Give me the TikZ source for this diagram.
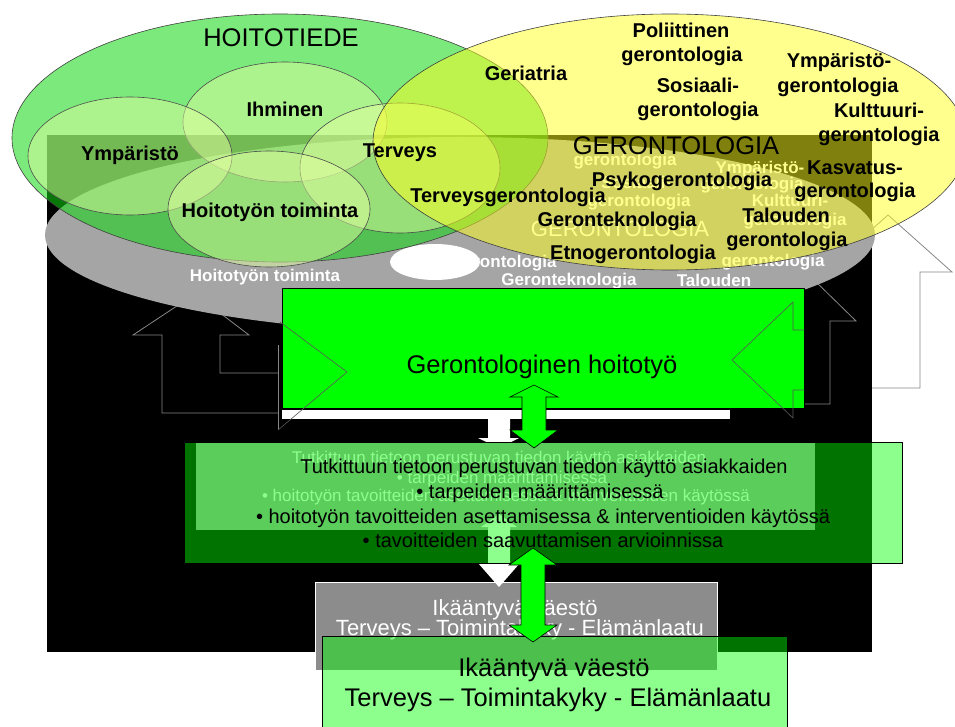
\documentclass[tikz,border=0pt]{standalone}
\usepackage{fontspec}
\setmainfont{Liberation Sans}
\definecolor{ellgreen}{RGB}{15,215,15}
\definecolor{ellpale}{RGB}{225,255,160}
\definecolor{ellyellow}{RGB}{255,255,30}
\definecolor{boxgreen}{RGB}{0,255,0}
\definecolor{ghostgray}{RGB}{165,165,165}
\definecolor{ghostdark}{RGB}{140,140,140}
\definecolor{linegray}{RGB}{135,135,135}

\begin{document}
\begin{tikzpicture}[x=1pt, y=-1pt,
  lbl/.style={font=\fontsize{20}{24}\selectfont\bfseries, anchor=base, inner sep=0pt},
  big/.style={font=\fontsize{25.5}{30}\selectfont, anchor=base, inner sep=0pt},
  txt/.style={font=\fontsize{20}{24}\selectfont, anchor=base, inner sep=0pt},
  ghost/.style={font=\fontsize{17}{20}\selectfont\bfseries, text=white, anchor=base, inner sep=0pt},
  ghosttxt/.style={font=\fontsize{17}{20}\selectfont, text=white, anchor=base, inner sep=0pt},
  outl/.style={draw=linegray, line width=0.8pt},
  pale/.style={fill=ellpale, fill opacity=0.5, draw=black!70, line width=0.6pt},
  dbl/.style={fill=boxgreen, draw=black, line width=0.6pt}]
\useasboundingbox (0,0) rectangle (955,727);

% white arrow on the right, behind the backdrop
\draw[outl, fill=white] (700,388) -- (920,388) -- (920,272) -- (952,272) -- (888,215)
  -- (824,272) -- (856,272) -- (856,324) -- (700,324) -- cycle;

% backdrop
\fill (47,135) rectangle (872,652);

% bent arrows beside the box
\draw[outl] (278,373) -- (220,373) -- (220,335) -- (249,335) -- (195,294) -- (133,335)
  -- (162,335) -- (162,413) -- (278,413);
\draw[outl] (278,345) -- (278,430);
\draw[outl] (804,404) -- (830,404) -- (830,321) -- (856,321) -- (812,278);

% faded copy of the ellipses
\fill[ghostgray] (460,235) ellipse [x radius=415, y radius=98];
\fill[white] (435,262) ellipse [x radius=45, y radius=18];
\node[ghost] (g_toim) at (265,281) {Hoitotyön toiminta};
\node[ghost] (g_tekn) at (569,285) {Geronteknologia};
\node[ghost] (g_tal) at (714,286) {Talouden};
\node[ghost] (g_ger1) at (773,266) {gerontologia};
\node[ghost] (g_ger2) at (505,268) {gerontologia};
\node[ghost] (g_ger3) at (625,166) {gerontologia};
\node[ghost] (g_ymp) at (760,174) {Ympäristö-};
\node[ghost] (g_sos) at (636,189) {Sosiaali-};
\node[ghost] (g_ger4) at (752,190) {gerontologia};
\node[ghost] (g_ger5) at (639,207) {gerontologia};
\node[ghost] (g_kul) at (790,207) {Kulttuuri-};
\node[ghost] (g_ger6) at (795,226) {gerontologia};
\node[anchor=base, inner sep=0pt, text=white, font=\fontsize{22}{26}\selectfont] (g_geron) at (620,237) {GERONTOLOGIA};

% faded copy of the lower boxes
\fill[white] (282,410) rectangle (730,419);
\fill[white] (488,419) -- (510,419) -- (510,438) -- (519,438) -- (499,448) -- (478,438) -- (488,438) -- cycle;
\fill[ghostgray] (196,443) rectangle (815,530);
\node[ghosttxt] (g_l1) at (499,463) {Tutkittuun tietoon perustuvan tiedon käyttö asiakkaiden};
\node[ghosttxt] (g_l2) at (502,483) {• tarpeiden määrittämisessä};
\node[ghosttxt] (g_l3) at (506,501) {• hoitotyön tavoitteiden asettamisessa \& interventioiden käytössä};
\draw[draw=white, fill=ghostdark] (315,582) rectangle (717,670);
\node[anchor=base, inner sep=0pt, text=white, font=\fontsize{22}{26}\selectfont] (g_ika) at (515,615) {Ikääntyvä väestö};
\node[anchor=base, inner sep=0pt, text=white, font=\fontsize{22}{26}\selectfont] (g_ter) at (520,635) {Terveys – Toimintakyky - Elämänlaatu};
\fill[white] (499,514) -- (517,527) -- (510,527) -- (510,563) -- (520,563) -- (499,587)
  -- (478,563) -- (488,563) -- (488,527) -- (481,527) -- cycle;

% nursing science
\filldraw[fill=ellgreen, fill opacity=0.55, draw=black!75, line width=0.6pt] (280,138) ellipse [x radius=268, y radius=124];
\filldraw[pale] (285,122) ellipse [x radius=102, y radius=60];
\filldraw[pale] (130,156) ellipse [x radius=102, y radius=59];
\filldraw[pale] (400,168) ellipse [x radius=100, y radius=65];
\filldraw[pale] (269,209) ellipse [x radius=101, y radius=58];
% gerontology
\filldraw[fill=ellyellow, fill opacity=0.5, draw=black!75, line width=0.6pt] (670,142) ellipse [x radius=297, y radius=128];

\node[big] (hoitotiede) at (281,46.5) {HOITOTIEDE};
\node[lbl] (ihminen) at (285,117) {Ihminen};
\node[lbl] (ymparisto) at (130,161) {Ympäristö};
\node[lbl] (terveys) at (400,157.5) {Terveys};
\node[lbl] (toiminta) at (270,218) {Hoitotyön toiminta};

\node[big] (gerontologia) at (676,155) {GERONTOLOGIA};
\node[lbl] (pol1) at (681,37.5) {Poliittinen};
\node[lbl] (pol2) at (682,61.5) {gerontologia};
\node[lbl] (geriatria) at (526,81) {Geriatria};
\node[lbl] (ymp1) at (839,67.5) {Ympäristö-};
\node[lbl] (ymp2) at (838,92.5) {gerontologia};
\node[lbl] (sos1) at (698,92.5) {Sosiaali-};
\node[lbl] (sos2) at (698,116.5) {gerontologia};
\node[lbl] (kul1) at (879,117.5) {Kulttuuri-};
\node[lbl] (kul2) at (879,141.5) {gerontologia};
\node[lbl] (kas1) at (855,174.5) {Kasvatus-};
\node[lbl] (kas2) at (855,197.5) {gerontologia};
\node[lbl] (psyko) at (682,186.5) {Psykogerontologia};
\node[lbl] (tervger) at (508,202.5) {Terveysgerontologia};
\node[lbl] (tekno) at (617,226.5) {Geronteknologia};
\node[lbl] (tal1) at (786,222.5) {Talouden};
\node[lbl] (tal2) at (787,246.5) {gerontologia};
\node[lbl] (etno) at (633,259.5) {Etnogerontologia};

% gerontological nursing
\node[dbl, minimum width=522, minimum height=120, inner sep=0pt] (hoitobox) at (543,348) {};
\node[big] (hoitotext) at (542,373) {Gerontologinen hoitotyö};
\draw[black!65, line width=0.6pt] (280,322) -- (347,372) -- (278,430);
\draw[black!65, line width=0.6pt] (804,330) -- (793,330) -- (793,302) -- (732,360) -- (793,418) -- (793,390) -- (804,390);

% evidence based practice
\node[fill=boxgreen, fill opacity=0.45, draw=black, draw opacity=1, line width=0.6pt,
  minimum width=718, minimum height=121, inner sep=0pt] (tietobox) at (543,502.5) {};
\node[txt] (tieto1) at (544,473) {Tutkittuun tietoon perustuvan tiedon käyttö asiakkaiden};
\node[txt] (tieto2) at (540,498.5) {• tarpeiden määrittämisessä};
\node[txt] (tieto3) at (543,523) {• hoitotyön tavoitteiden asettamisessa \& interventioiden käytössä};
\node[txt] (tieto4) at (543,547) {• tavoitteiden saavuttamisen arvioinnissa};

% ageing population
\node[fill=boxgreen, fill opacity=0.45, draw=black, draw opacity=1, line width=0.6pt,
  minimum width=465, minimum height=104, inner sep=0pt] (vaestobox) at (554.5,688) {};
\node[big] (vaesto1) at (554,676.5) {Ikääntyvä väestö};
\node[big] (vaesto2) at (558,706) {Terveys – Toimintakyky - Elämänlaatu};

% double arrows
\coordinate (up1) at (534,385);
\coordinate (up2) at (533,548);
\draw[dbl] (up1) -- ++(24,12) -- ++(-12,0) -- ++(0,33) -- ++(12,0) -- ++(-24,18)
  -- ++(-24,-18) -- ++(12,0) -- ++(0,-33) -- ++(-12,0) -- cycle;
\draw[dbl] (up2) -- ++(24,17) -- ++(-12,0) -- ++(0,60) -- ++(12,0) -- ++(-24,17)
  -- ++(-24,-17) -- ++(12,0) -- ++(0,-60) -- ++(-12,0) -- cycle;
\end{tikzpicture}
\end{document}
